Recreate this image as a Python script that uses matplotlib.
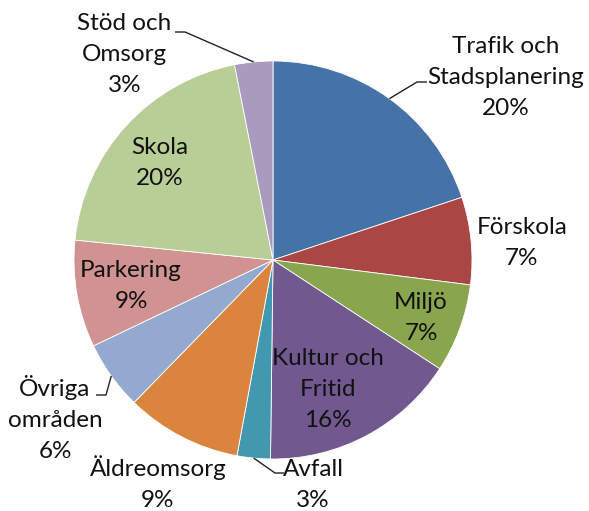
import matplotlib
matplotlib.use('Agg')
import matplotlib.pyplot as plt
import numpy as np

categories = ['Trafik och\nStadsplanering', 'Förskola', 'Miljö', 'Kultur och\nFritid',
              'Avfall', 'Äldreomsorg', 'Övriga\nområden', 'Parkering', 'Skola',
              'Stöd och\nOmsorg']
values = [19.9, 7.1, 7.2, 16.0, 2.7, 9.4, 5.6, 8.7, 20.3, 3.1]
colors = ['#4572A7', '#AA4643', '#89A54E', '#71588F', '#4198AF',
          '#DB843D', '#93A9CF', '#D19392', '#B9CD96', '#A99BBD']

# ---- layout (pixel coordinates, y measured from top; label y = last-line baseline) ----
W, H = 589, 511
CX, CY, R = 273, 260, 199
label_pos = [(506, 115), (522, 265), (421, 340), (328, 427), (313, 507),
             (158, 507), (55, 458), (131, 308), (160, 185), (124.5, 92)]
leaders = {0: [(417, 82), (427, 82)],
           4: [(275, 473), (284, 473)],
           6: [(106, 395), (96, 395)],
           9: [(185, 32), (175, 32)]}

plt.rcParams['font.family'] = ['Lato', 'DejaVu Sans']

fig = plt.figure(figsize=(W / 100, H / 100), dpi=100)
ax = fig.add_axes([0, 0, 1, 1])

ax.pie(values, colors=colors, startangle=90, counterclock=False,
       center=(CX, H - CY), radius=R,
       wedgeprops=dict(edgecolor='white', linewidth=0.6))
ax.set_xlim(0, W)
ax.set_ylim(0, H)
ax.set_aspect('equal')
ax.axis('off')

# leader lines from wedge mid-angle on the rim
total = sum(values)
start = 90.0
mids = []
for v in values:
    span = 360.0 * v / total
    mids.append(np.deg2rad(start - span / 2))
    start -= span

for i, pts in leaders.items():
    a = mids[i]
    x0 = CX + R * np.cos(a)
    y0 = (H - CY) + R * np.sin(a)
    xs = [x0] + [p[0] for p in pts]
    ys = [y0] + [H - p[1] for p in pts]
    ax.plot(xs, ys, color='#222222', lw=1.0, solid_capstyle='butt')

for cat, v, (lx, ly) in zip(categories, values, label_pos):
    ax.text(lx, H - ly, f"{cat}\n{round(v)}%", ha='center', va='baseline',
            multialignment='center', fontsize=17.5, color='#111111',
            linespacing=1.58)

fig.savefig('out.png', dpi=100)
